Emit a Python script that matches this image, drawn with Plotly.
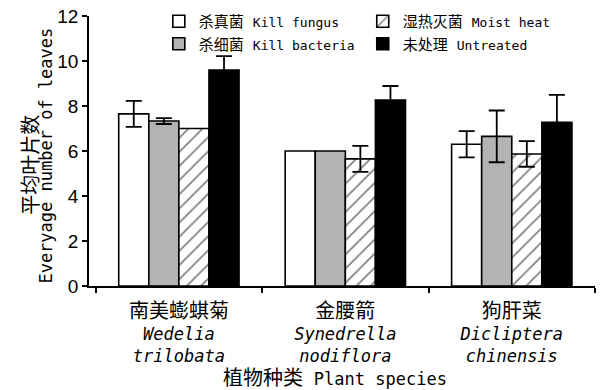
import plotly.graph_objects as go

# ---- data ----
species_cn = ["南美蟛蜞菊", "金腰箭", "狗肝菜"]
genus = ["Wedelia", "Synedrella", "Dicliptera"]
epithet = ["trilobata", "nodiflora", "chinensis"]

series_cn = ["杀真菌", "杀细菌", "湿热灭菌", "未处理"]
series_en = ["Kill fungus", "Kill bacteria", "Moist heat", "Untreated"]
fungus = [7.65, 6.0, 6.3]
fungus_err = [0.58, None, 0.58]
bacteria = [7.33, 6.0, 6.65]
bacteria_err = [0.13, None, 1.15]
moist = [7.0, 5.65, 5.87]
moist_err = [None, 0.58, 0.57]
untreated = [9.6, 8.27, 7.28]
untreated_err = [0.62, 0.62, 1.21]

y_ticks = [0, 2, 4, 6, 8, 10, 12]

MONO = "DejaVu Sans Mono, Noto Sans CJK SC, sans-serif"


def cjk(text, size):
    return f"<span style='font-size:{size}px;font-family:Noto Sans CJK SC'>{text}</span>"


def lat(text, size):
    return f"<span style='font-size:{size}px'>{text}</span>"


cats = [f"{cjk(c, 20)}<br><i>{g}</i><br><i>{e}</i>" for c, g, e in zip(species_cn, genus, epithet)]

fig = go.Figure()
styles = [
    dict(color="white", pattern=None, legend="legend"),
    dict(color="#b3b3b3", pattern=None, legend="legend"),
    dict(color="white", pattern=dict(shape="/", fgcolor="black", bgcolor="white", size=10, solidity=0.17), legend="legend2"),
    dict(color="black", pattern=None, legend="legend2"),
]
vals = [fungus, bacteria, moist, untreated]
errs = [fungus_err, bacteria_err, moist_err, untreated_err]
for cn, en, v, e, st in zip(series_cn, series_en, vals, errs, styles):
    marker = dict(color=st["color"], line=dict(color="black", width=1.6))
    if st["pattern"]:
        marker["pattern"] = st["pattern"]
    e_arr = ["NaN" if x is None else x for x in e]  # no error bar where none is drawn
    fig.add_trace(go.Bar(
        x=cats, y=v, name=f"{cjk(cn, 15)} {lat(en, 13)}", marker=marker, legend=st["legend"],
        error_y=dict(type="data", array=e_arr, visible=True, color="black", thickness=1.8, width=8),
    ))

fig.update_layout(
    width=606, height=390,
    margin=dict(l=89, r=11, t=16, b=104, autoexpand=False),
    paper_bgcolor="white", plot_bgcolor="white",
    barmode="group", bargap=0.277, bargroupgap=0,
    font=dict(family=MONO, color="black"),
    legend=dict(x=0.138, y=1.041, xanchor="left", yanchor="top", bgcolor="rgba(0,0,0,0)",
                font=dict(size=15, family=MONO), tracegroupgap=0, itemclick=False),
    legend2=dict(x=0.541, y=1.041, xanchor="left", yanchor="top", bgcolor="rgba(0,0,0,0)",
                 font=dict(size=15, family=MONO), tracegroupgap=0, itemclick=False),
    showlegend=True,
)
fig.update_xaxes(
    type="category", range=[-0.54, 2.5], showline=True, linecolor="black", linewidth=1.5,
    ticks="outside", tickson="boundaries", ticklen=5, tickcolor="black", tickwidth=1.5,
    tickfont=dict(size=17, family=MONO), ticklabelstandoff=10, showgrid=False, zeroline=False,
)
fig.update_yaxes(
    range=[0, 12], tickvals=y_ticks, showline=True, linecolor="black", linewidth=1.5,
    ticks="outside", ticklen=5, tickcolor="black", tickwidth=1.5,
    tickfont=dict(size=19, family="Liberation Sans, Arial, sans-serif"),
    showgrid=False, zeroline=False,
)
fig.add_annotation(text="平均叶片数", xref="paper", yref="paper", x=-0.118, y=0.45,
                   textangle=-90, showarrow=False, font=dict(size=20, family="Noto Sans CJK SC"),
                   xanchor="center", yanchor="middle")
fig.add_annotation(text="Everyage number of leaves", xref="paper", yref="paper", x=-0.085, y=0.483,
                   textangle=-90, showarrow=False, font=dict(size=17, family=MONO),
                   xanchor="center", yanchor="middle")
fig.add_annotation(text=f"{cjk('植物种类', 20)} {lat('Plant species', 17)}", xref="paper", yref="paper",
                   x=0.486, y=-0.334, showarrow=False, font=dict(size=18, family=MONO),
                   xanchor="center", yanchor="middle")

fig.write_html("out.html", config={"displayModeBar": False},
               post_script="document.body.style.margin='0';")
